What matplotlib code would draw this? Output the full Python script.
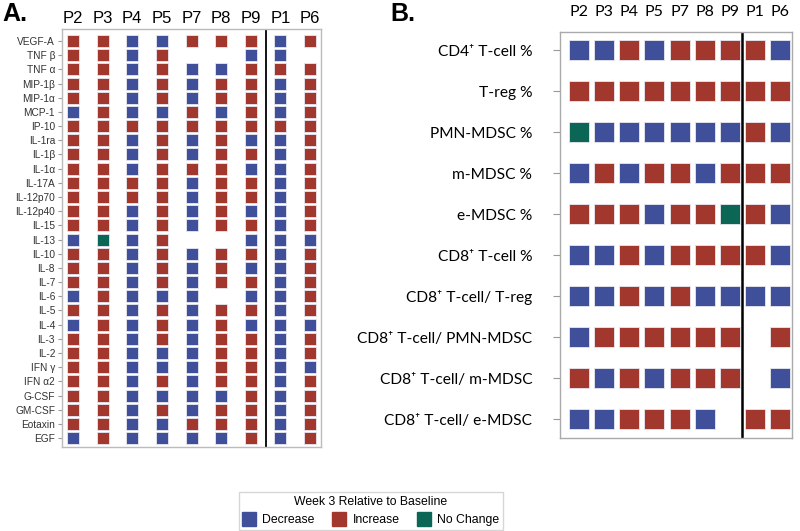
import matplotlib
matplotlib.use("Agg")
import matplotlib.pyplot as plt
from matplotlib.lines import Line2D

# ---------------- data ----------------
patients = ["P2", "P3", "P4", "P5", "P7", "P8", "P9", "P1", "P6"]

cytokines = ["VEGF-A", "TNF β", "TNF α", "MIP-1β", "MIP-1α", "MCP-1", "IP-10", "IL-1ra",
             "IL-1β", "IL-1α", "IL-17A", "IL-12p70", "IL-12p40", "IL-15", "IL-13", "IL-10",
             "IL-8", "IL-7", "IL-6", "IL-5", "IL-4", "IL-3", "IL-2", "IFN γ", "IFN α2",
             "G-CSF", "GM-CSF", "Eotaxin", "EGF"]
# I = increase, D = decrease, N = no change, - = missing
cytokine_changes = [
    "IIDDIIIDI",  # VEGF-A
    "IIDI--DD-",  # TNF b
    "IIDIDDIII",  # TNF a
    "IIDIDIIDI",  # MIP-1b
    "IIDIDIIDI",  # MIP-1a
    "DIDDIDIDI",  # MCP-1
    "IIIIIIIII",  # IP-10
    "IIDIDIDDI",  # IL-1ra
    "IIDIDIIDI",  # IL-1b
    "IIDIIIDDI",  # IL-1a
    "IIIIDIIDI",  # IL-17A
    "IIIIDIIDI",  # IL-12p70
    "IIDIDIDDI",  # IL-12p40
    "IIDIDIIDI",  # IL-15
    "DNDI--DDD",  # IL-13
    "IIDIDIIDI",  # IL-10
    "IIDIDIDDI",  # IL-8
    "IIDIDIIDI",  # IL-7
    "DIDDD-DDI",  # IL-6
    "IIDIDIIDI",  # IL-5
    "DIDIDIDDD",  # IL-4
    "IIDIDIIDI",  # IL-3
    "IIDDDIIDI",  # IL-2
    "IIDDDIIDD",  # IFN g
    "IIDIDIIDI",  # IFN a2
    "IIDDDDIDI",  # G-CSF
    "IIDIDIIDI",  # GM-CSF
    "IIDDIIIDI",  # Eotaxin
    "DIDDDDIDI",  # EGF
]

cells = ["CD4⁺ T-cell %", "T-reg %", "PMN-MDSC %", "m-MDSC %", "e-MDSC %", "CD8⁺ T-cell %",
         "CD8⁺ T-cell/ T-reg", "CD8⁺ T-cell/ PMN-MDSC", "CD8⁺ T-cell/ m-MDSC",
         "CD8⁺ T-cell/ e-MDSC"]
cell_changes = [
    "DDIDIIIID",
    "IIIIIIIII",
    "NDDDDDDID",
    "DIDIIDIII",
    "IIIDIINID",
    "DDIDIIIID",
    "DDIDIDDDD",
    "DIIIIII-I",
    "IDIDIII-D",
    "DDIIID-II",
]

legend_title = "Week 3 Relative to Baseline"
legend_labels = ["Decrease", "Increase", "No Change"]

colors = {"D": "#3F4F99", "I": "#A1372D", "N": "#0C6655"}
codes = ["D", "I", "N"]


def draw(ax, rows, changes, size):
    for code in codes:
        xs, ys = [], []
        for r, row in enumerate(changes):
            for c, ch in enumerate(row):
                if ch == code:
                    xs.append(c)
                    ys.append(r)
        ax.scatter(xs, ys, marker="s", s=size, c=colors[code],
                   edgecolors="#e8e8f0", linewidths=0.6, zorder=3)


fig = plt.figure(figsize=(8.0, 5.31), dpi=100)

# ---------------- panel A ----------------
axA = fig.add_axes([62 / 800, 1 - 447 / 531, 259 / 800, 418 / 531])
draw(axA, cytokines, cytokine_changes, 80)
axA.set_xlim(-0.37, 8.37)
axA.set_ylim(28.63, -0.85)
axA.axvline(6.5, color="black", lw=1.3, zorder=2)
axA.set_yticks(range(len(cytokines)))
axA.set_yticklabels(cytokines, fontsize=7.3, family="DejaVu Sans", color="#333333")
for t in axA.get_yticklabels():
    t.set_family("Liberation Sans")
axA.tick_params(axis="y", length=3, color="#999999", pad=2)
axA.set_xticks(range(len(patients)))
axA.set_xticklabels(patients, fontsize=12, family="Liberation Sans")
axA.xaxis.tick_top()
axA.tick_params(axis="x", length=0, pad=2)
for s in axA.spines.values():
    s.set_color("#bbbbbb")
    s.set_linewidth(1.0)

# ---------------- panel B ----------------
axB = fig.add_axes([560 / 800, 1 - 438 / 531, 232 / 800, 406 / 531])
draw(axB, cells, cell_changes, 215)
axB.set_xlim(-0.76, 8.48)
axB.set_ylim(9.46, -0.44)
axB.axvline(6.49, color="black", lw=1.8, zorder=2)
axB.set_yticks(range(len(cells)))
axB.set_yticklabels(cells, fontsize=11.2, family=["Lato", "DejaVu Sans"])
axB.tick_params(axis="y", length=5, color="#999999", pad=15)
axB.set_xticks(range(len(patients)))
axB.set_xticklabels(patients, fontsize=11.5, family=["Lato", "DejaVu Sans"])
axB.xaxis.tick_top()
axB.tick_params(axis="x", length=0, pad=9)
for s in axB.spines.values():
    s.set_color("#aaaaaa")
    s.set_linewidth(1.0)

# ---------------- panel letters ----------------
fig.text(2 / 800, 1 - 14 / 531, "A.", fontsize=18, fontweight="bold",
         family="Liberation Sans", va="center", ha="left")
fig.text(390 / 800, 1 - 14 / 531, "B.", fontsize=18, fontweight="bold",
         family="Liberation Sans", va="center", ha="left")

# ---------------- legend ----------------
handles = [Line2D([], [], marker="s", linestyle="none", markersize=10,
                  markerfacecolor=colors[c], markeredgecolor=colors[c])
           for c in codes]
leg = fig.legend(handles, legend_labels, title=legend_title, ncol=3,
                 loc="center", bbox_to_anchor=(371 / 800, 1 - 511 / 531),
                 frameon=True, fancybox=False,
                 edgecolor="#cccccc", handletextpad=0.6, columnspacing=1.5,
                 borderpad=0.3, handlelength=1.0,
                 prop={"family": "Liberation Sans", "size": 8.8})
leg.get_title().set_family("Liberation Sans")
leg.get_title().set_fontsize(8.8)
leg.get_frame().set_linewidth(1.0)

fig.savefig("out.png", dpi=100)
